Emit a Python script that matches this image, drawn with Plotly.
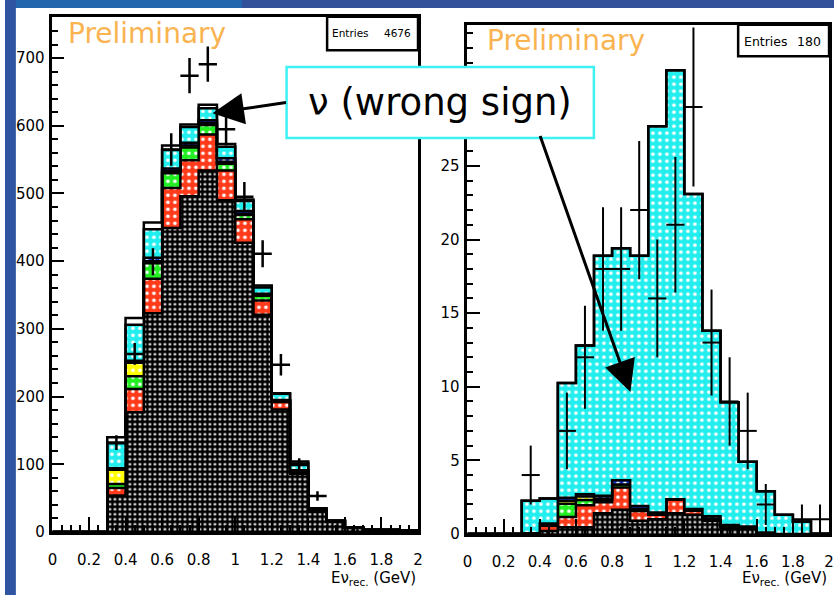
import numpy as np
import plotly.graph_objects as go

W, H = 839, 604

# ---------------- data ----------------
bin_low = [0.0, 0.1, 0.2, 0.3, 0.4, 0.5, 0.6, 0.7, 0.8, 0.9,
           1.0, 1.1, 1.2, 1.3, 1.4, 1.5, 1.6, 1.7, 1.8, 1.9]
bin_width = 0.1

layer_colors = ["#000000", "#ff3a1a", "#22ee22", "#ffff00", "#1030d0", "#22eeee", "#ffffff"]

# left panel (stack components, bottom -> top)
left_black = [0, 0, 0, 54, 177, 323, 449, 496, 534, 490, 427, 321, 181, 86, 30, 15, 6, 3, 3, 2]
left_red = [0, 0, 0, 11, 34, 51, 59, 53, 53, 44, 35, 21, 11, 3, 1, 0.5, 0.2, 0, 0, 0]
left_green = [0, 0, 0, 6, 19, 23, 22, 19, 14, 10, 6, 7, 1, 1, 0.5, 0.5, 0.2, 0, 0, 0]
left_yellow = [0, 0, 0, 21, 20, 3, 3, 3, 3, 3, 2, 1, 1, 0.5, 0.5, 0, 0, 0, 0, 0]
left_blue = [0, 0, 0, 2, 3, 5, 4, 4, 4, 5, 4, 2, 1, 0.5, 0.5, 0, 0, 0, 0, 0]
left_cyan = [0, 0, 0, 37, 53, 42, 27, 23, 18, 17, 15, 9, 9, 10, 1.5, 0.5, 0.3, 0.3, 0.1, 0]
left_white = [0, 0, 0, 9, 10, 10, 7, 4, 5, 4, 2, 3, 1, 3, 1, 0.5, 0.3, 0.2, 0.1, 0.2]

left_data = [None, None, None, 132, 263, 399, 565, 674, 691, 595, 495, 411, 247, 99, 53,
             None, None, None, None, None]
left_err = [0, 0, 0, 11, 16, 20, 24, 26, 26, 24, 22, 20, 16, 10, 7, 0, 0, 0, 0, 0]

# right panel
right_black = [0, 0, 0, 0.05, 0.2, 0.45, 0.45, 1.4, 1.65, 0.9, 1.0, 1.4, 1.3, 0.9, 0.4, 0.45, 0.1, 0, 0, 0]
right_red = [0, 0, 0, 0, 0.35, 0.7, 1.5, 0.75, 1.5, 0.65, 0.3, 0.95, 0.3, 0.15, 0.1, 0, 0, 0, 0, 0]
right_green = [0, 0, 0, 0, 0.05, 0.9, 0.35, 0.15, 0.2, 0.15, 0.05, 0, 0, 0, 0, 0, 0, 0, 0, 0]
right_yellow = [0, 0, 0, 0, 0, 0.2, 0.25, 0.1, 0, 0, 0, 0, 0, 0, 0, 0, 0, 0, 0, 0]
right_blue = [0, 0, 0, 0, 0.1, 0.2, 0.15, 0.2, 0.3, 0.2, 0.1, 0, 0.1, 0.15, 0.1, 0.05, 0, 0, 0, 0]
right_cyan = [0, 0, 0, 2.2, 1.7, 7.8, 10.1, 16.3, 15.75, 17.0, 26.25, 29.15, 21.4, 12.6, 8.35, 4.4, 2.8, 1.3, 0.85, 0]
right_white = [0] * 20

right_data = [None, None, None, 4, None, 7, 12, 18, 18, 22, 16, 21, 29, 13, 9, 7, 2, None, 1, 1]
right_err = [0, 0, 0, 2, 0, 2.6, 3.5, 4.2, 4.2, 4.7, 4, 4.6, 5.4, 3.6, 3, 2.6, 1.4, 0, 1, 1]

entries_left = 4676
entries_right = 180

FONT = "DejaVu Sans"

fig = go.Figure()

edges = list(bin_low) + [bin_low[-1] + bin_width]
centers = [b + bin_width / 2 for b in bin_low]


def add_stack(layers, xa, ya):
    cum = np.cumsum(np.array(layers, dtype=float), axis=0)
    for i, (row, col) in enumerate(zip(cum, layer_colors)):
        yv = list(row) + [row[-1]]
        if col == "#000000":
            pat = dict(shape=".", fgcolor="white", bgcolor="black", size=5,
                       solidity=0.2, fillmode="replace")
        elif col == "#ffffff":
            pat = None
        else:
            pat = dict(shape=".", fgcolor="white", bgcolor=col, size=7,
                       solidity=0.22, fillmode="replace")
        kw = dict(x=edges, y=yv, mode="lines", line=dict(shape="hv", color="black", width=2.5),
                  fill="tozeroy" if i == 0 else "tonexty", fillcolor=col,
                  xaxis=xa, yaxis=ya, showlegend=False, hoverinfo="skip")
        if pat:
            kw["fillpattern"] = pat
        fig.add_trace(go.Scatter(**kw))


add_stack([left_black, left_red, left_green, left_yellow, left_blue, left_cyan, left_white], "x", "y")
fig.add_trace(go.Scatter(x=centers, y=left_data, mode="markers", marker=dict(size=1, color="black"),
                         error_y=dict(type="data", array=left_err, color="black", thickness=2.5, width=0),
                         error_x=dict(type="constant", value=bin_width / 2, color="black", thickness=2.5, width=0),
                         xaxis="x", yaxis="y", showlegend=False))

add_stack([right_black, right_red, right_green, right_yellow, right_blue, right_cyan, right_white], "x2", "y2")
fig.add_trace(go.Scatter(x=centers, y=right_data, mode="markers", marker=dict(size=1, color="black"),
                         error_y=dict(type="data", array=right_err, color="black", thickness=2, width=0),
                         error_x=dict(type="constant", value=bin_width / 2, color="black", thickness=2, width=0),
                         xaxis="x2", yaxis="y2", showlegend=False))


def px(x):
    return x / W


def py(y):
    return 1 - y / H


axis_common = dict(showgrid=False, zeroline=False, showline=True, linecolor="black", linewidth=2.5,
                   mirror=True, ticks="inside", tickcolor="black", tickwidth=2,
                   tickfont=dict(family=FONT, size=15, color="black"))

fig.update_layout(
    width=W, height=H, margin=dict(l=0, r=0, t=0, b=0),
    paper_bgcolor="white", plot_bgcolor="white",
    xaxis=dict(domain=[px(48), px(418)], range=[0, 2], dtick=0.2, tick0=0, ticklen=15,
               ticklabelstandoff=12,
               minor=dict(dtick=0.05, ticks="inside", ticklen=7, tickwidth=2, tickcolor="black"),
               anchor="y", **axis_common),
    yaxis=dict(domain=[py(540), py(17)], range=[0, 761], dtick=100, tick0=0, ticklen=12,
               ticklabelstandoff=2,
               minor=dict(dtick=20, ticks="inside", ticklen=6, tickwidth=2, tickcolor="black"),
               anchor="x", **axis_common),
    xaxis2=dict(domain=[px(468), px(834)], range=[0, 2], dtick=0.2, tick0=0, ticklen=15,
                ticklabelstandoff=12,
                minor=dict(dtick=0.05, ticks="inside", ticklen=7, tickwidth=2, tickcolor="black"),
                anchor="y2", **axis_common),
    yaxis2=dict(domain=[py(542), py(25)], range=[0, 34.6], dtick=5, tick0=0, ticklen=13,
                ticklabelstandoff=2,
                minor=dict(dtick=1, ticks="inside", ticklen=6, tickwidth=2, tickcolor="black"),
                anchor="x2", **axis_common),
)

shapes = [
    # blue slide border strips
    dict(type="rect", xref="paper", yref="paper", x0=0, x1=1.0, y0=py(8), y1=1,
         fillcolor="#33509b", line=dict(width=0), layer="below"),
    dict(type="rect", xref="paper", yref="paper", x0=0, x1=px(240), y0=py(8), y1=1,
         fillcolor="#2466ae", line=dict(width=0), layer="below"),
    dict(type="rect", xref="paper", yref="paper", x0=0, x1=px(11), y0=0, y1=1,
         fillcolor="#2f55a2", line=dict(width=0), layer="below"),
    # stats boxes
    dict(type="rect", xref="paper", yref="paper", x0=px(326), x1=px(418), y0=py(51), y1=py(17),
         fillcolor="white", line=dict(color="black", width=2.5)),
    dict(type="rect", xref="paper", yref="paper", x0=px(742), x1=px(834), y0=py(57), y1=py(25),
         fillcolor="white", line=dict(color="black", width=2.5)),
    # label box
    dict(type="rect", xref="paper", yref="paper", x0=px(285), x1=px(596), y0=py(140), y1=py(68),
         fillcolor="white", line=dict(color="#3ff2f2", width=2.5)),
]
fig.update_layout(shapes=shapes)

ann = []
# Preliminary
ann.append(dict(xref="paper", yref="paper", x=px(62), y=py(34), xanchor="left", yanchor="middle",
                text="Preliminary", showarrow=False, font=dict(family=FONT, size=28, color="#f9b451")))
ann.append(dict(xref="paper", yref="paper", x=px(486), y=py(41), xanchor="left", yanchor="middle",
                text="Preliminary", showarrow=False, font=dict(family=FONT, size=28, color="#f9b451")))
# stats
ann.append(dict(xref="paper", yref="paper", x=px(329), y=py(34), xanchor="left", yanchor="middle",
                text="Entries", showarrow=False, font=dict(family=FONT, size=10.5, color="black")))
ann.append(dict(xref="paper", yref="paper", x=px(413), y=py(34), xanchor="right", yanchor="middle",
                text=str(entries_left), showarrow=False, font=dict(family=FONT, size=10.5, color="black")))
ann.append(dict(xref="paper", yref="paper", x=px(746), y=py(42), xanchor="left", yanchor="middle",
                text="Entries", showarrow=False, font=dict(family=FONT, size=12.5, color="black")))
ann.append(dict(xref="paper", yref="paper", x=px(828), y=py(42), xanchor="right", yanchor="middle",
                text=str(entries_right), showarrow=False, font=dict(family=FONT, size=12.5, color="black")))
# axis titles
for xr in (418, 834):
    ann.append(dict(xref="paper", yref="paper", x=px(xr), y=py(587), xanchor="right", yanchor="middle",
                    text="Eν<sub>rec.</sub> (GeV)", showarrow=False,
                    font=dict(family=FONT, size=15, color="black")))
# big label
ann.append(dict(xref="paper", yref="paper", x=px(440), y=py(104), xanchor="center", yanchor="middle",
                text="ν (wrong sign)", showarrow=False, font=dict(family=FONT, size=37, color="black")))
# arrows
ann.append(dict(xref="paper", yref="paper", x=px(210), y=py(115), text=" ", showarrow=True,
                ax=75, ay=-11, arrowhead=2, arrowsize=2.1, arrowwidth=3, arrowcolor="black",
                standoff=0, startstandoff=0, font=dict(size=1)))
ann.append(dict(xref="paper", yref="paper", x=px(633), y=py(398), text=" ", showarrow=True,
                ax=-91, ay=-258, arrowhead=2, arrowsize=2.1, arrowwidth=3, arrowcolor="black",
                standoff=0, startstandoff=0, font=dict(size=1)))
fig.update_layout(annotations=ann)

fig.write_html("out.html")
